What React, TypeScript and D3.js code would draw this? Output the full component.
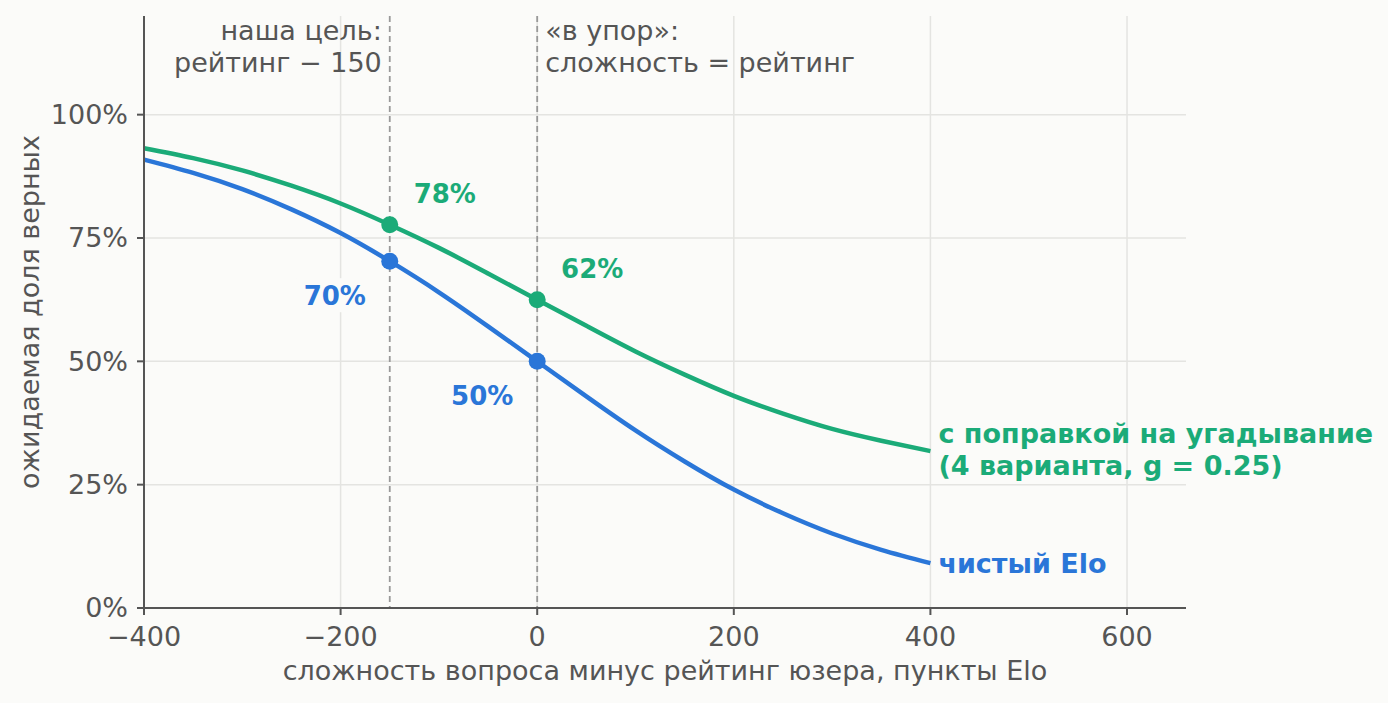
import React from "react";
import * as d3 from "d3";

// разница (сложность − рейтинг), пункты Elo
const diffs = [-400, -350, -300, -250, -200, -150, -100, -50, 0, 50, 100, 150, 200, 250, 300, 350, 400];
// чистый Elo
const pureElo = [0.909, 0.882, 0.849, 0.808, 0.76, 0.703, 0.64, 0.571, 0.5, 0.429, 0.36, 0.297, 0.24, 0.192, 0.151, 0.118, 0.091];
// с поправкой на угадывание, g = 0.25
const withGuess = [0.932, 0.912, 0.887, 0.856, 0.82, 0.777, 0.73, 0.678, 0.625, 0.572, 0.52, 0.473, 0.43, 0.394, 0.363, 0.339, 0.318];

const xTicks = [-400, -200, 0, 200, 400, 600];
const yTicks = [0, 0.25, 0.5, 0.75, 1];
const markers = [
  { x: -150, y: 0.703, label: "70%", series: "elo" },
  { x: 0, y: 0.5, label: "50%", series: "elo" },
  { x: -150, y: 0.777, label: "78%", series: "guess" },
  { x: 0, y: 0.625, label: "62%", series: "guess" },
];
const refLines = [-150, 0];

const W = 1388;
const H = 703;
const BG = "#fbfbf9";
const TXT = "#555555";
const BLUE = "#2a76d8";
const GREEN = "#1bab78";
const FONT = "'DejaVu Sans', sans-serif";
const FS = 27;

const App = () => {
  const x = d3.scaleLinear().domain([-400, 660]).range([144, 1186]);
  const y = d3.scaleLinear().domain([0, 1.2]).range([608, 16]);

  const line = d3
    .line<number>()
    .x((d, i) => x(diffs[i]))
    .y(d => y(d))
    .curve(d3.curveNatural);

  const fmtX = (d: number) => (d < 0 ? "\u2212" + Math.abs(d) : String(d));
  const fmtY = d3.format(".0%");

  // смещения подписей у точек
  const labelPos = (m: typeof markers[number]) => {
    if (m.series === "guess") return { x: x(m.x) + 55, y: y(m.y) - 31 };
    return { x: x(m.x) - 55, y: y(m.y) + 35 };
  };

  return (
    <>
      <style>{`body{margin:0;background:${BG}}`}</style>
      <svg width={W} height={H} style={{ display: "block", background: BG }} fontFamily={FONT}>
        <rect width={W} height={H} fill={BG} />
        {/* сетка */}
        <g stroke="#e4e4e1" strokeWidth={1.5}>
          {xTicks.map(t => (
            <line key={"gx" + t} x1={x(t)} x2={x(t)} y1={y(1.2)} y2={y(0)} />
          ))}
          {yTicks.map(t => (
            <line key={"gy" + t} x1={x(-400)} x2={x(660)} y1={y(t)} y2={y(t)} />
          ))}
        </g>
        {/* вертикальные пунктиры */}
        {refLines.map(v => (
          <line key={"r" + v} x1={x(v)} x2={x(v)} y1={y(1.2)} y2={y(0)} stroke="#999" strokeWidth={1.8} strokeDasharray="6,4" />
        ))}
        <text fill={TXT} fontSize={FS} textAnchor="end">
          <tspan x={x(-150) - 8} y={40}>наша цель:</tspan>
          <tspan x={x(-150) - 8} y={72}>рейтинг − 150</tspan>
        </text>
        <text fill={TXT} fontSize={FS} textAnchor="start">
          <tspan x={x(0) + 8} y={40}>«в упор»:</tspan>
          <tspan x={x(0) + 8} y={72}>сложность = рейтинг</tspan>
        </text>

        {/* кривые */}
        <path d={line(withGuess) || ""} fill="none" stroke={GREEN} strokeWidth={4.5} />
        <path d={line(pureElo) || ""} fill="none" stroke={BLUE} strokeWidth={4.5} />

        {markers.map(m => (
          <circle key={m.label} cx={x(m.x)} cy={y(m.y)} r={8.5} fill={m.series === "elo" ? BLUE : GREEN} />
        ))}
        {markers.map(m => {
          const p = labelPos(m);
          return (
            <g key={"l" + m.label}>
              <rect x={p.x - 38} y={p.y - 18} width={76} height={34} fill={BG} />
              <text
                x={p.x}
                y={p.y}
                dy="0.35em"
                textAnchor="middle"
                fontSize={FS - 1}
                fontWeight="bold"
                fill={m.series === "elo" ? BLUE : GREEN}
              >
                {m.label}
              </text>
            </g>
          );
        })}

        {/* подписи линий */}
        <text fill={GREEN} fontSize={FS} fontWeight="bold">
          <tspan x={x(400) + 8} y={434} dy="0.35em">с поправкой на угадывание</tspan>
          <tspan x={x(400) + 8} y={466} dy="0.35em">(4 варианта, g = 0.25)</tspan>
        </text>
        <text x={x(400) + 8} y={y(pureElo[pureElo.length - 1])} dy="0.35em" fill={BLUE} fontSize={FS} fontWeight="bold">
          чистый Elo
        </text>

        {/* оси */}
        <g stroke={TXT} strokeWidth={2}>
          <line x1={x(-400)} x2={x(-400)} y1={y(1.2)} y2={y(0) + 1} />
          <line x1={x(-400) - 1} x2={x(660)} y1={y(0)} y2={y(0)} />
          {xTicks.map(t => (
            <line key={"tx" + t} x1={x(t)} x2={x(t)} y1={y(0)} y2={y(0) + 7} />
          ))}
          {yTicks.map(t => (
            <line key={"ty" + t} x1={x(-400) - 7} x2={x(-400)} y1={y(t)} y2={y(t)} />
          ))}
        </g>
        {xTicks.map(t => (
          <text key={"lx" + t} x={x(t)} y={y(0) + 29} dy="0.35em" textAnchor="middle" fill={TXT} fontSize={FS}>
            {fmtX(t)}
          </text>
        ))}
        {yTicks.map(t => (
          <text key={"ly" + t} x={x(-400) - 16} y={y(t)} dy="0.35em" textAnchor="end" fill={TXT} fontSize={FS}>
            {fmtY(t)}
          </text>
        ))}
        <text x={(x(-400) + x(660)) / 2} y={671} dy="0.35em" textAnchor="middle" fill={TXT} fontSize={FS}>
          сложность вопроса минус рейтинг юзера, пункты Elo
        </text>
        <text
          transform={`translate(30, ${y(0.6)}) rotate(-90)`}
          dy="0.35em"
          textAnchor="middle"
          fill={TXT}
          fontSize={FS}
        >
          ожидаемая доля верных
        </text>
      </svg>
    </>
  );
};

export default App;
